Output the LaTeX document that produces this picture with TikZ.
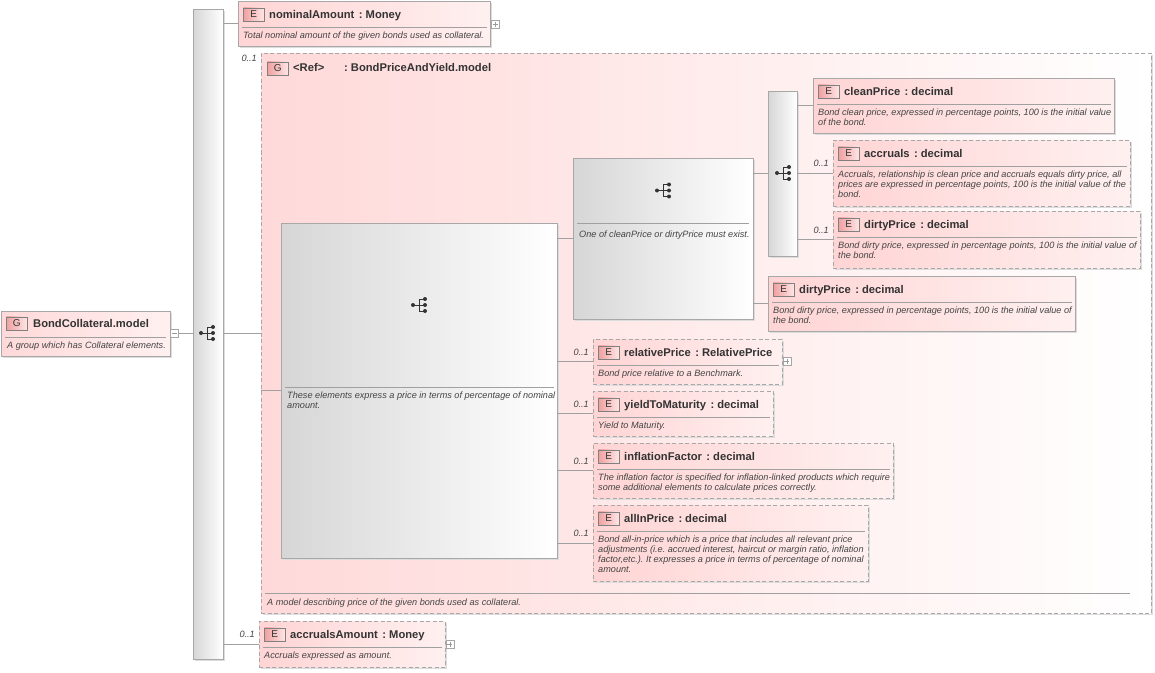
\documentclass[tikz,border=0pt]{standalone}
\usepackage{fontspec}
\setmainfont{Liberation Sans}
\frenchspacing
\definecolor{bordergray}{HTML}{A8A8A8}
\definecolor{linegray}{HTML}{A0A0A0}
\definecolor{pinkL}{HTML}{FFD4D4}
\definecolor{pinkR}{HTML}{FFF0F0}
\definecolor{grpL}{HTML}{FFD9D9}
\definecolor{grpR}{HTML}{FFFFFF}
\definecolor{grayL}{HTML}{D6D6D6}
\definecolor{grayR}{HTML}{FFFFFF}
\definecolor{txt}{HTML}{333333}
\definecolor{dtxt}{HTML}{444444}
\definecolor{iconL}{HTML}{F0A0A0}
\definecolor{iconR}{HTML}{FFE6E6}
\definecolor{shadowc}{HTML}{DCDCDC}
\definecolor{icond}{HTML}{333333}
\newcommand\myTitleFont{\fontsize{11.2}{13}\selectfont\bfseries}
\newcommand\myDescFont{\fontsize{9.15}{10}\selectfont\itshape}
\tikzset{
  bx/.style={draw=bordergray, line width=0.8pt, inner sep=0pt, outer sep=0pt, anchor=north west},
  optional/.style={dash pattern=on 4pt off 2.5pt},
  solidb/.style={},
  elemfill/.style={left color=pinkL, right color=pinkR},
  grpfill/.style={left color=grpL, right color=grpR},
  grayfill/.style={left color=grayL, right color=grayR},
  conn/.style={draw=linegray, line width=0.8pt},
  sepline/.style={draw=linegray, line width=0.8pt},
  ttl/.style={anchor=base west, inner sep=0pt, font=\myTitleFont, text=txt},
  dsc/.style={anchor=base west, inner sep=0pt, font=\myDescFont, text=dtxt},
  mult/.style={anchor=base east, inner sep=0pt, font=\myDescFont, text=dtxt},
  eicon/.style={draw=black!50, line width=0.6pt, left color=iconL, right color=iconR,
    minimum width=21pt, minimum height=13pt, inner sep=0pt, anchor=north west,
    font=\fontsize{10}{10}\selectfont, text=txt},
  pmbox/.style={draw=black!35, fill=white, line width=0.6pt, minimum size=8pt, inner sep=0pt, anchor=west},
  pmplus/.style={path picture={\draw[black!40,line width=0.6pt]
    ([xshift=-2.5pt]path picture bounding box.center) -- ([xshift=2.5pt]path picture bounding box.center)
    ([yshift=-2.5pt]path picture bounding box.center) -- ([yshift=2.5pt]path picture bounding box.center);}},
  pmminus/.style={path picture={\draw[black!40,line width=0.6pt]
    ([xshift=-2.5pt]path picture bounding box.center) -- ([xshift=2.5pt]path picture bounding box.center);}},
}
% element box: #1 name, #2 x0, #3 y0, #4 x1, #5 y1, #6 name text, #7 type, #8 desc, #9 border style
\newcommand\elem[9]{%
  \fill[shadowc] (#2+2,#3+2) rectangle (#4+2,#5+2);
  \node[bx,#9,elemfill,minimum width={(#4-#2)*1pt},minimum height={(#5-#3)*1pt}] (#1) at (#2,#3) {};
  \node[eicon] (#1-icon) at (#2+5,#3+6.5) {E};
  \node[ttl] (#1-title) at (#2+31,#3+17.5) {#6\hspace{4.5pt}:\hspace{3pt}#7};
  \draw[sepline] (#2+4,#3+26.5) -- (#4-3,#3+26.5);
  \node[dsc] (#1-desc) at (#2+5,#3+37.5) {\parbox[t]{400pt}{#8}};
}
\newcommand\multlabel[1]{%
  \node[mult] (#1-mult) at ([xshift=-4pt,yshift=6.5pt]#1.west) {0..1};
}
\newcommand\seqicon[2]{%
  \draw[icond, line width=0.9pt] (#1-7,#2) -- (#1+5,#2) (#1-1,#2-6) -- (#1-1,#2+6)
    (#1-1,#2-6) -- (#1+5,#2-6) (#1-1,#2+6) -- (#1+5,#2+6);
  \fill[icond] (#1-7,#2) circle (2pt) (#1+5,#2-6) circle (2pt) (#1+5,#2) circle (2pt) (#1+5,#2+6) circle (2pt);
}
\begin{document}
\begin{tikzpicture}[x=1pt,y=-1pt]
\useasboundingbox (0,0) rectangle (1155,672);
\fill[white] (0,0) rectangle (1155,672);

% ---- BondCollateral.model
\fill[shadowc] (3,313) rectangle (172,358);
\node[bx, left color=grpL, right color=pinkR, minimum width=169pt, minimum height=45pt] (bcm) at (1,311) {};
\node[eicon] (bcm-icon) at (6,316.5) {G};
\node[ttl] (bcm-title) at (33,327) {BondCollateral.model};
\draw[sepline] (5,337.5) -- (166,337.5);
\node[dsc] (bcm-desc) at (7,348) {A group which has Collateral elements.};
\node[pmbox, pmminus] (bcm-minus) at (170,333.5) {};

% ---- main sequence bar
\fill[shadowc] (195,11) rectangle (225,661);
\node[bx, grayfill, minimum width=30pt, minimum height=650pt] (bar) at (193,9) {};
\seqicon{208}{333}

% ---- nominalAmount
\elem{nom}{238}{1}{490}{46}{nominalAmount}{Money}{Total nominal amount of the given bonds used as collateral.}{solidb}
\node[pmbox, pmplus] (nom-plus) at (491,24.5) {};

% ---- group BondPriceAndYield.model
\fill[shadowc] (263,55) rectangle (1153,615);
\node[bx, optional, grpfill, minimum width=890pt, minimum height=560pt] (grp) at (261,53) {};
\node[mult] (grp-mult) at (257,61) {0..1};
\node[eicon] (grp-icon) at (267,61.5) {G};
\node[ttl] (grp-ref) at (293,71) {<Ref>};
\node[ttl] (grp-title) at (344,71) {:\hspace{3pt}BondPriceAndYield.model};
\draw[sepline] (265,593.5) -- (1130,593.5);
\node[dsc] (grp-desc) at (267,605) {A model describing price of the given bonds used as collateral.};

% ---- inner sequence box
\fill[shadowc] (283,225) rectangle (559,560);
\node[bx, grayfill, minimum width=276pt, minimum height=335pt] (iseq) at (281,223) {};
\seqicon{420}{305}
\draw[sepline] (285,387.5) -- (554,387.5);
\node[dsc] (iseq-desc) at (287,398.5) {\parbox[t]{300pt}{These elements express a price in terms of percentage of nominal\\amount.}};

% ---- choice box
\fill[shadowc] (575,160) rectangle (755,321);
\node[bx, grayfill, minimum width=180pt, minimum height=161pt] (chc) at (573,158) {};
\seqicon{664}{190.5}
\draw[sepline] (577,223.5) -- (749,223.5);
\node[dsc] (chc-desc) at (579,237) {One of cleanPrice or dirtyPrice must exist.};

% ---- inner sequence bar
\fill[shadowc] (770,93) rectangle (799,258);
\node[bx, grayfill, minimum width=29pt, minimum height=165pt] (ibar) at (768,91) {};
\seqicon{784}{173}

% ---- elements
\elem{clean}{813}{78}{1114}{133}{cleanPrice}{decimal}{Bond clean price, expressed in percentage points, 100 is the initial value\\of the bond.}{solidb}
\elem{accr}{833}{140}{1130}{206}{accruals}{decimal}{Accruals, relationship is clean price and accruals equals dirty price, all\\prices are expressed in percentage points, 100 is the initial value of the\\bond.}{optional}
\multlabel{accr}
\elem{dpa}{833}{211}{1140}{268}{dirtyPrice}{decimal}{Bond dirty price, expressed in percentage points, 100 is the initial value of\\the bond.}{optional}
\multlabel{dpa}
\elem{dpb}{768}{276}{1075}{331}{dirtyPrice}{decimal}{Bond dirty price, expressed in percentage points, 100 is the initial value of\\the bond.}{solidb}
\elem{rel}{593}{339}{782}{384}{relativePrice}{RelativePrice}{Bond price relative to a Benchmark.}{optional}
\multlabel{rel}
\node[pmbox, pmplus] (rel-plus) at (782.5,361.5) {};
\elem{ytm}{593}{391}{773}{436}{yieldToMaturity}{decimal}{Yield to Maturity.}{optional}
\multlabel{ytm}
\elem{infl}{593}{443}{893}{498}{inflationFactor}{decimal}{The inflation factor is specified for inflation-linked products which require\\some additional elements to calculate prices correctly.}{optional}
\multlabel{infl}
\elem{allin}{593}{505}{868}{581}{allInPrice}{decimal}{Bond all-in-price which is a price that includes all relevant price\\adjustments (i.e. accrued interest, haircut or margin ratio, inflation\\factor,etc.). It expresses a price in terms of percentage of nominal\\amount.}{optional}
\multlabel{allin}
\elem{accam}{259}{621}{445}{667}{accrualsAmount}{Money}{Accruals expressed as amount.}{optional}
\multlabel{accam}
\node[pmbox, pmplus] (accam-plus) at (445.5,644) {};

% ---- connectors
\draw[conn] (bcm-minus.east) -- (bar.west |- bcm-minus.east);
\draw[conn] (bar.east |- nom.west) -- (nom.west);
\draw[conn] (bar.east |- grp.west) -- (grp.west);
\draw[conn] (bar.east |- accam.west) -- (accam.west);
\draw[conn] (grp.west |- iseq.west) -- (iseq.west);
\draw[conn] (iseq.east |- chc.west) -- (chc.west);
\draw[conn] (iseq.east |- rel.west) -- (rel.west);
\draw[conn] (iseq.east |- ytm.west) -- (ytm.west);
\draw[conn] (iseq.east |- infl.west) -- (infl.west);
\draw[conn] (iseq.east |- allin.west) -- (allin.west);
\draw[conn] (chc.east |- ibar.west) -- (ibar.west);
\draw[conn] (chc.east |- dpb.west) -- (dpb.west);
\draw[conn] (ibar.east |- clean.west) -- (clean.west);
\draw[conn] (ibar.east |- accr.west) -- (accr.west);
\draw[conn] (ibar.east |- dpa.west) -- (dpa.west);
\end{tikzpicture}
\end{document}
